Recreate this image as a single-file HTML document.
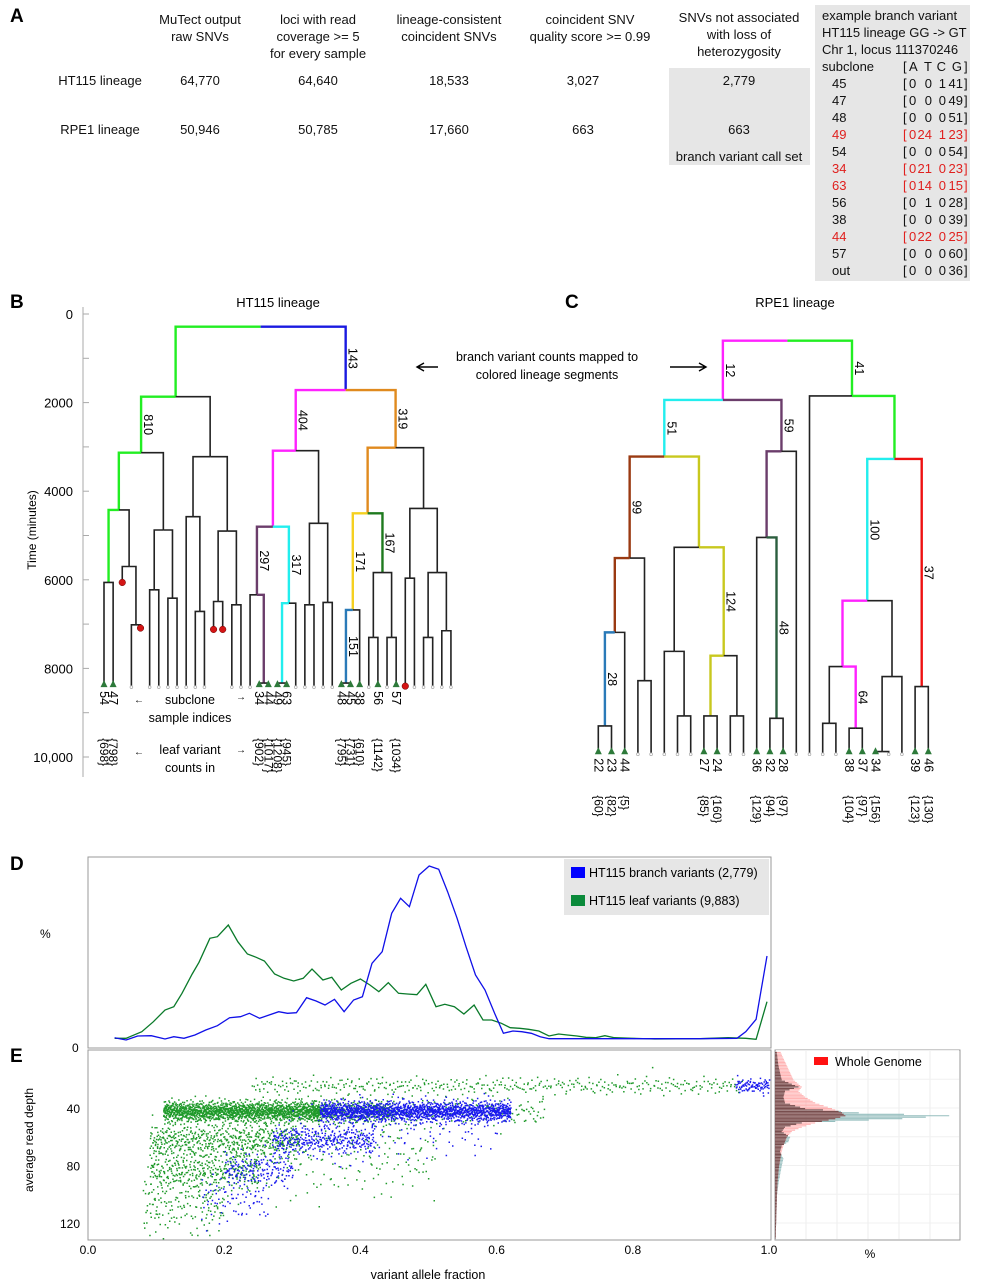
<!DOCTYPE html>
<html><head><meta charset="utf-8"><style>
html,body{margin:0;padding:0;background:#fff;}
svg{display:block;font-family:"Liberation Sans",sans-serif;}
</style></head><body>
<svg id="fig" width="984" height="1280" viewBox="0 0 984 1280" xmlns="http://www.w3.org/2000/svg">
<g font-weight="bold" font-size="19" fill="#000">
<text x="10" y="22">A</text><text x="10" y="308">B</text><text x="565" y="308">C</text><text x="10" y="870">D</text><text x="10" y="1062">E</text>
</g>
<g font-size="13" fill="#111" text-anchor="middle">
<text x="200" y="24">MuTect output</text><text x="200" y="41">raw SNVs</text>
<text x="318" y="24">loci with read</text><text x="318" y="41">coverage &gt;= 5</text><text x="318" y="58">for every sample</text>
<text x="449" y="24">lineage-consistent</text><text x="449" y="41">coincident SNVs</text>
<text x="590" y="24">coincident SNV</text><text x="590" y="41">quality score &gt;= 0.99</text>
<text x="739" y="22">SNVs not associated</text><text x="739" y="39">with loss of</text><text x="739" y="56">heterozygosity</text>
<rect x="669" y="68" width="141" height="97" fill="#e6e6e6"/>
<text x="100" y="85">HT115 lineage</text><text x="200" y="85">64,770</text><text x="318" y="85">64,640</text><text x="449" y="85">18,533</text><text x="583" y="85">3,027</text><text x="739" y="85">2,779</text>
<text x="100" y="134">RPE1 lineage</text><text x="200" y="134">50,946</text><text x="318" y="134">50,785</text><text x="449" y="134">17,660</text><text x="583" y="134">663</text><text x="739" y="134">663</text>
<text x="739" y="161">branch variant call set</text>
</g>
<g font-size="13" fill="#111">
<rect x="815" y="5" width="155" height="276" fill="#e6e6e6"/>
<text x="822" y="20">example branch variant</text>
<text x="822" y="37">HT115 lineage GG -&gt; GT</text>
<text x="822" y="54">Chr  1,  locus 111370246</text>
<text x="822" y="71">subclone</text>
<text x="903" y="71">[</text><text x="909" y="71">A</text><text x="932" y="71" text-anchor="end">T</text><text x="946" y="71" text-anchor="end">C</text><text x="962" y="71" text-anchor="end">G</text><text x="964" y="71">]</text>
<g id="exrows"></g>
</g>
<g>
<text x="278" y="307" font-size="13" text-anchor="middle">HT115 lineage</text>
<text x="795" y="307" font-size="13" text-anchor="middle">RPE1 lineage</text>
<text x="547" y="361" font-size="12.5" text-anchor="middle">branch variant counts mapped to</text>
<text x="547" y="379" font-size="12.5" text-anchor="middle">colored lineage segments</text>
<path d="M438 367H418M424 363L417 367L424 371" stroke="#000" stroke-width="1.4" fill="none"/>
<path d="M670 367H705M699 363L706 367L699 371" stroke="#000" stroke-width="1.4" fill="none"/>
<g font-size="12.5" text-anchor="middle">
<text x="190" y="704">subclone</text><text x="190" y="722">sample indices</text>
<text x="190" y="754">leaf  variant</text><text x="190" y="772">counts in</text>
</g>
<g font-size="10" fill="#000"><text x="134" y="703">←</text><text x="236" y="700">→</text><text x="134" y="755">←</text><text x="236" y="753">→</text></g>
<text transform="translate(36,530) rotate(-90)" font-size="12" text-anchor="middle">Time (minutes)</text>
<g id="taxis"></g>
<g id="treeB"></g><g id="treeC"></g>
</g>
<g>
<rect x="88" y="857" width="683" height="191" fill="none" stroke="#999"/>
<text x="40" y="938" font-size="12">%</text>
<text x="72" y="1052" font-size="12">0</text>
<g id="dlines"></g>
<rect x="564" y="859" width="205" height="56" fill="#e6e6e6"/>
<rect x="571" y="867" width="14" height="11" fill="#0000ff"/>
<text x="589" y="877" font-size="12.5">HT115 branch variants (2,779)</text>
<rect x="571" y="895" width="14" height="11" fill="#0a8a3a"/>
<text x="589" y="905" font-size="12.5">HT115 leaf variants (9,883)</text>
</g>
<g>
<rect x="88" y="1050" width="683" height="190" fill="none" stroke="#999"/>
<g id="scatter"></g>
<g id="eaxes" font-size="12"></g>
<text transform="translate(33,1140) rotate(-90)" font-size="12" text-anchor="middle">average read depth</text>
<text x="428" y="1279" font-size="12.5" text-anchor="middle">variant allele fraction</text>
<rect x="775" y="1050" width="185" height="190" fill="none" stroke="#999"/>
<g id="hist"></g>
<rect x="814" y="1057" width="14" height="8" fill="#ff1111"/>
<text x="835" y="1066" font-size="12.5">Whole Genome</text>
<text x="870" y="1258" font-size="12" text-anchor="middle">%</text>
</g>
</svg>
<script>
// ---------- data ----------
const exSub=['45','47','48','49','54','34','63','56','38','44','57','out'];
const exA=[0,0,0,0,0,0,0,0,0,0,0,0];
const exT=[0,0,0,24,0,21,14,1,0,22,0,0];
const exC=[1,0,0,1,0,0,0,0,0,0,0,0];
const exG=[41,49,51,23,54,23,15,28,39,25,60,36];
const exRed=[0,0,0,1,0,1,1,0,0,1,0,0];

const timeTicks=[0,2000,4000,6000,8000,10000];
const timeTickLabels=['0','2000','4000','6000','8000','10,000'];

const vafBlue=[0.039,0.056,0.073,0.093,0.113,0.126,0.141,0.157,0.173,0.190,0.208,0.224,0.237,0.252,0.266,0.280,0.293,0.306,0.321,0.335,0.348,0.362,0.376,0.390,0.403,0.417,0.432,0.446,0.459,0.472,0.486,0.501,0.515,0.528,0.542,0.555,0.569,0.583,0.597,0.610,0.624,0.637,0.651,0.664,0.677,0.765,0.832,0.899,0.953,0.966,0.981,0.997];
const pctBlue=[0.14,0,0.24,0.26,0.06,0.2,0.1,0.3,0.6,0.86,1.34,1.4,1.6,1.3,1.5,1.7,1.6,1.64,2.54,2.34,2.1,2.44,1.7,2.4,2.6,4.6,5.3,7.6,8.5,8.0,9.9,10.44,10.24,8.9,7.3,5.6,3.9,3.0,1.6,0.4,0.54,0.5,0.4,0.2,0.08,0.08,0.08,0.08,0.1,0.5,1.24,5.04];
const vafLeaf=[0.039,0.056,0.079,0.096,0.113,0.126,0.138,0.153,0.163,0.179,0.190,0.206,0.220,0.234,0.247,0.259,0.274,0.288,0.302,0.316,0.329,0.345,0.358,0.372,0.386,0.400,0.414,0.427,0.441,0.456,0.469,0.483,0.496,0.511,0.524,0.538,0.552,0.567,0.580,0.593,0.607,0.620,0.634,0.647,0.662,0.677,0.691,0.704,0.718,0.731,0.745,0.759,0.773,0.798,0.832,0.899,0.940,0.966,0.981,0.997];
const pctLeaf=[0.1,0.1,0.5,1.1,1.8,2.0,2.8,3.96,4.66,6.1,6.2,6.9,5.9,5.16,4.96,4.74,3.96,3.7,3.54,3.7,4.26,3.6,3.76,3.0,3.4,3.66,3.3,2.9,3.44,2.8,2.76,2.72,3.34,2.0,2.14,2.0,1.56,2.1,1.2,1.2,1.0,0.74,0.7,0.64,0.54,0.24,0.36,0.3,0.24,0.16,0.14,0.26,0.14,0.1,0.06,0.08,0.14,0.1,0.04,2.3];

const vafTicks=[0,0.2,0.4,0.6,0.8,1.0];
const vafTickLabels=['0.0','0.2','0.4','0.6','0.8','1.0'];
const depthTicks=[40,80,120];

// scatter clusters: vaf centre, vaf width, depth centre, depth sd, count
const clGreenVaf=[0.225,0.39,0.60,0.56,0.20,0.17,0.14,0.36];
const clGreenVafW=[0.23,0.12,0.72,0.22,0.22,0.16,0.12,0.3];
const clGreenDepth=[42,42,24,42,62,83,106,72];
const clGreenDepthW=[3.5,4,3,5,6,7,12,15];
const clGreenN=[1500,350,380,140,520,320,170,220];
const clBlueVaf=[0.48,0.345,0.25,0.215,0.975,0.45];
const clBlueVafW=[0.28,0.15,0.1,0.1,0.05,0.3];
const clBlueDepth=[42,62,82,102,24,55];
const clBlueDepthW=[3.5,5,6,9,2.5,10];
const clBlueN=[1500,320,160,80,90,120];

const histDepth=[0,10,20,25,28,32,36,40,43,45,47,50,53,56,60,63,66,70,75,80,90,100,115,130];
const histGenome=[1.5,3.5,5.5,8,7,9,12,17,20,21,18,12,8,5,3.5,3,2.5,2,1.6,1.2,0.8,0.6,0.4,0.2];
const histSubclone=[0.5,1,2,7,3,2.5,3,9,25,52,38,8,3,2,4.5,4,2,1.5,2.5,2,1.2,0.6,0.4,0.2];

// ---------- helpers ----------
const NS='http://www.w3.org/2000/svg';
function mk(tag,attrs,parent){const e=document.createElementNS(NS,tag);for(const k in attrs)e.setAttribute(k,attrs[k]);parent.appendChild(e);return e;}
function txt(s,attrs,parent){const e=mk('text',attrs,parent);e.textContent=s;return e;}

// example rows
(function(){const g=document.getElementById('exrows');
for(let i=0;i<exSub.length;i++){const y=88+i*17;const col=exRed[i]?'#e0201e':'#111';
const r=txt(exSub[i],{x:832,y:y,fill:col},g);


const row=mk('g',{fill:col},g);


txt('[',{x:903,y:y},row);
txt(String(exA[i]),{x:909,y:y},row);
txt(String(exT[i]),{x:932,y:y,'text-anchor':'end'},row);
txt(String(exC[i]),{x:946,y:y,'text-anchor':'end'},row);
txt(String(exG[i]),{x:963,y:y,'text-anchor':'end'},row);
txt(']',{x:964,y:y},row);}})();

// time axis
(function(){const g=document.getElementById('taxis');const ty=t=>314+t*0.0443;
mk('line',{x1:83,y1:307,x2:83,y2:777,stroke:'#aaa','stroke-width':1},g);
for(let t=0;t<=10500;t+=1000){mk('line',{x1:83,y1:ty(t),x2:89,y2:ty(t),stroke:'#aaa'},g);}
timeTicks.forEach((t,i)=>{const e=txt(timeTickLabels[i],{x:73,y:ty(t)+5,'font-size':13,'text-anchor':'end'},g);

});})();

// ---------- trees ----------
const K='#222',G='#22ee22',B='#1a1ae0',M='#ff22ff',O='#e08a1e',C='#22eeee',P='#6b3d6b',Y='#f5d020',DG='#1e7a1e',SB='#2a7ab8',BR='#9a3a12',Y2='#c8c81e',R='#ee1111',DG2='#2b5e3e';
function N(t,c,a,b,lab){return {t:t,c:c,kids:[a,b],lab:lab};}
function L(lab,cnt){return {leaf:true,lab:lab,cnt:cnt};}
function D(t){return {leaf:true,dead:t};}

const treeB=N(286,K,
 N(1866,G,
  N(3130,G,
   N(4424,G,
    N(6060,G,L('54','{698}'),L('47','{798}')),
    N(5700,K,D(6060),N(7015,K,L(),D(7090)))),
   N(4876,K,N(6226,K,L(),L()),N(6414,K,L(),L())),'810'),
  N(3220,K,
   N(4575,K,L(),N(6714,K,L(),L())),
   N(4900,K,N(6490,K,D(7120),D(7120)),N(6565,K,L(),L())))),
 N(1716,B,
  N(3086,M,
   N(4800,M,
    N(6340,P,L(),N(8330,P,L('34','{902}'),L('44','{1017}')),'297'),
    N(6527,C,N(8330,C,L('49','{1208}'),L('63','{945}')),L(),'317')),
   N(4726,K,N(6565,K,L(),L()),N(6510,K,L(),L())),'404'),
  N(3018,O,
   N(4500,O,
    N(6680,Y,N(8330,SB,L('48','{795}'),L('45','{731}'),'151'),L('38','{610}'),'171'),
    N(5836,DG,N(7300,K,L(),L('56','{1142}')),N(7300,K,L(),L('57','{1034}')),'167')),
   N(4388,K,N(5964,K,D(8400),L()),N(5836,K,N(7300,K,L(),L()),N(7150,K,L(),L()))),'319'),'143'));

const treeC=N(0,K,
 N(1338,M,
  N(2616,C,
   N(4906,BR,
    N(6584,BR,N(8696,SB,L('22','{60}'),L('23','{82}'),'28'),L('44','{5}')),
    N(7675,K,L(),L()),'99'),
   N(4665,Y2,
    N(7013,K,L(),N(8470,K,L(),L())),
    N(7111,Y2,N(8470,Y2,L('27','{85}'),L('24','{160}')),N(8470,K,L(),L()),'124')),'51'),
  N(2496,P,N(4440,P,L('36','{129}'),N(8523,DG2,L('32','{94}'),L('28','{97}'),'48')),L(),'59'),'12'),
 N(1248,G,
  L(),
  N(2668,G,
   N(5868,C,
    N(7356,M,N(8636,K,L(),L()),N(8748,M,L('38','{104}'),L('37','{97}'),'64')),
    N(7582,K,N(9275,K,L('34','{156}'),L()),L()),'100'),
   N(7808,R,L('39','{123}'),L('46','{130}'),'37')),'41'));

function drawTree(root,gid,cfg){
 const g=document.getElementById(gid);let idx=0;
 const ty=t=>cfg.y0+t*0.0443;
 function lay(n){if(n.leaf){n.x=cfg.x0+idx*cfg.step;idx++;return n.x;}
  const a=lay(n.kids[0]),b=lay(n.kids[1]);n.x=(a+b)/2;return n.x;}
 lay(root);
 function draw(n,pt,px){
  const col=n.leaf?K:n.c;const w=(col===K)?1.6:2.4;
  const t=n.leaf?(n.dead!==undefined?n.dead:cfg.leafT):n.t;
  if(pt!==null){
   const seg=mk('path',{d:'M'+px+' '+ty(pt)+'H'+n.x+'V'+ty(t),stroke:col,'stroke-width':w,fill:'none','stroke-linejoin':'miter'},g);
   
   
   if(n.lab&&!n.leaf){const my=(ty(pt)+ty(t))/2;
    const lt=txt(n.lab,{transform:'translate('+(n.x+3)+','+my+') rotate(90)','font-size':12.5,'text-anchor':'middle'},g);
    
    }
  }
  if(n.leaf){
   if(n.dead!==undefined){const d=mk('circle',{cx:n.x,cy:ty(t),r:3.3,fill:'#d41515',stroke:'#600','stroke-width':0.5},g);
    
    }
   else if(n.lab){const tri=mk('path',{d:'M'+(n.x-3.5)+' '+(ty(t)+1)+'L'+n.x+' '+(ty(t)-6)+'L'+(n.x+3.5)+' '+(ty(t)+1)+'Z',fill:'#2d7a3a'},g);
    
    
    const li=txt(n.lab,{transform:'translate('+(n.x-4)+','+(ty(t)+5)+') rotate(90)','font-size':12.5},g);
    
    
    const lc=txt(n.cnt,{transform:'translate('+(n.x-4)+','+(ty(t)+cfg.cntOff)+') rotate(90)','font-size':12},g);
    
    }
   else{const c=mk('circle',{cx:n.x,cy:ty(t)+1,r:1.4,fill:'#fff',stroke:'#aaa','stroke-width':0.7},g);
    
    }
   return;}
  n.kids.forEach(k=>draw(k,n.t,n.x));
 }
 draw(root,null,null);
}
drawTree(treeB,'treeB',{x0:104,step:9.13,y0:314,leafT:8400,cntOff:52});
drawTree(treeC,'treeC',{x0:598.3,step:13.2,y0:340.7,leafT:9313,cntOff:42});

// ---------- panel D ----------
const vx=v=>88+v*681;
const py=p=>1040-p*50/3;
(function(){const g=document.getElementById('dlines');
const mkLine=(xs,ys,col,name)=>{const d=xs.map((v,i)=>(i?'L':'M')+vx(v).toFixed(1)+' '+py(ys[i]).toFixed(1)).join('');
 const p=mk('path',{d:d,stroke:col,'stroke-width':1.3,fill:'none'},g);
 
 };
mkLine(vafLeaf,pctLeaf,'#0a7a2a','leaf-variants-line');
mkLine(vafBlue,pctBlue,'#1010e8','branch-variants-line');})();

// ---------- panel E scatter ----------
const dy=d=>1050.5+d*1.4375;
function halton(i,b){let f=1,r=0;while(i>0){f/=b;r+=f*(i%b);i=Math.floor(i/b);}return r;}
(function(){const g=document.getElementById('scatter');
const build=(cv,cw,cd,cdw,cn,col,name,off)=>{let d='';let k=off;
 for(let c=0;c<cv.length;c++){for(let i=0;i<cn[c];i++){k++;
  const v=cv[c]+(halton(k,2)-0.5)*cw[c];
  const u1=Math.max(1e-4,halton(k,3)),u2=halton(k,5);
  const dd=cd[c]+cdw[c]*Math.sqrt(-2*Math.log(u1))*Math.cos(2*Math.PI*u2);
  if(v<0||v>1||dd<2||dd>131)continue;
  d+='M'+vx(v).toFixed(1)+' '+dy(dd).toFixed(1)+'h1.5v1.5h-1.5z';}}
 const p=mk('path',{d:d,fill:col},g);
 
 };
build(clGreenVaf,clGreenVafW,clGreenDepth,clGreenDepthW,clGreenN,'#1f9a2a','leaf-variant-points',0);
build(clBlueVaf,clBlueVafW,clBlueDepth,clBlueDepthW,clBlueN,'#1a1aee','branch-variant-points',7000);
const a=document.getElementById('eaxes');
vafTicks.forEach((v,i)=>{const e=txt(vafTickLabels[i],{x:vx(v),y:1254,'text-anchor':'middle'},a);
 
 });
depthTicks.forEach(d=>{const e=txt(String(d),{x:80,y:dy(d)+5,'text-anchor':'end'},a);
 
 });})();

// ---------- histogram ----------
(function(){const g=document.getElementById('hist');const hx=w=>775+w*3.35;
for(let x=806;x<960;x+=31){mk('line',{x1:x,y1:1051,x2:x,y2:1239,stroke:'#eee'},g);}
for(let d=0;d<132;d+=20){mk('line',{x1:776,y1:dy(d),x2:959,y2:dy(d),stroke:'#f0f0f0'},g);}
const val=(arr,d)=>{for(let i=1;i<histDepth.length;i++){if(d<=histDepth[i]){const f=(d-histDepth[i-1])/(histDepth[i]-histDepth[i-1]);return arr[i-1]+f*(arr[i]-arr[i-1]);}}return 0;};
let dg='',ds='',dm='';
for(let d=1;d<131;d+=1){const y=dy(d).toFixed(1);const a=val(histGenome,d),b=val(histSubclone,d);
 dg+='M775 '+y+'H'+hx(a).toFixed(1)+'v1.1H775z';
 ds+='M775 '+y+'H'+hx(b).toFixed(1)+'v1.1H775z';
 dm+='M775 '+y+'H'+hx(Math.min(a,b)).toFixed(1)+'v1.1H775z';}
const p1=mk('path',{d:ds,fill:'#7aaeae',opacity:0.8},g);


const p2=mk('path',{d:dg,fill:'#ff9a9a',opacity:0.75},g);


const p3=mk('path',{d:dm,fill:'#6b4545',opacity:0.9},g);

})();
</script>
</body></html>
